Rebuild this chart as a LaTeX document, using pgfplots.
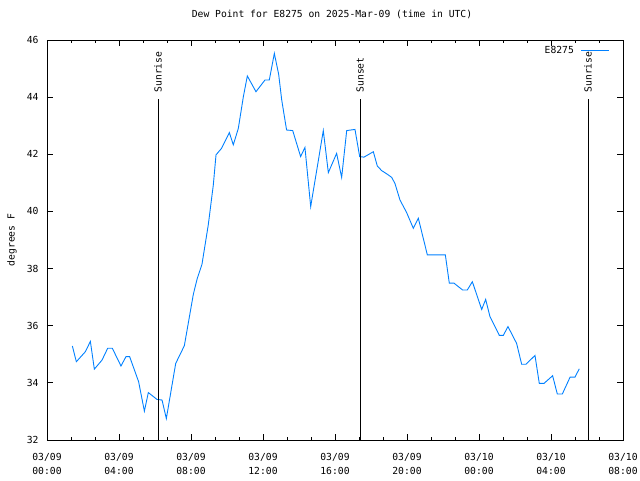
\documentclass[border=0pt]{standalone}
\usepackage{fontspec}
\setmainfont{DejaVu Sans Mono}
\usepackage{pgfplots}
\pgfplotsset{compat=1.18}
\definecolor{gpblue}{RGB}{0,128,255}
\pgfplotstableread{
h v
1.41 35.29
1.63 34.74
2.13 35.09
2.41 35.45
2.63 34.48
3.06 34.80
3.37 35.21
3.63 35.21
4.11 34.59
4.39 34.92
4.59 34.92
5.09 34.04
5.41 33.01
5.63 33.66
6.11 33.42
6.39 33.40
6.63 32.75
7.15 34.68
7.63 35.30
8.13 37.10
8.35 37.66
8.61 38.15
8.96 39.53
9.24 40.93
9.39 41.98
9.70 42.21
10.13 42.76
10.35 42.33
10.63 42.91
10.91 44.02
11.13 44.74
11.61 44.19
12.11 44.60
12.35 44.60
12.63 45.53
12.87 44.80
13.04 43.90
13.31 42.85
13.65 42.83
14.09 41.92
14.33 42.24
14.65 40.17
15.35 42.83
15.63 41.36
16.09 42.03
16.37 41.19
16.65 42.83
17.11 42.87
17.37 41.92
17.61 41.90
18.13 42.09
18.35 41.59
18.59 41.43
18.91 41.30
19.15 41.19
19.33 40.98
19.61 40.40
19.98 39.96
20.35 39.41
20.63 39.76
21.13 38.48
22.13 38.48
22.35 37.49
22.61 37.49
23.09 37.25
23.35 37.25
23.63 37.54
24.15 36.57
24.37 36.92
24.61 36.32
25.13 35.66
25.35 35.66
25.61 35.97
26.09 35.38
26.37 34.65
26.61 34.65
27.11 34.96
27.35 33.98
27.61 33.98
28.09 34.25
28.35 33.61
28.63 33.61
29.06 34.20
29.33 34.20
29.57 34.49
}\dewdata
\begin{document}
\fontsize{9.7}{14}\selectfont
\begin{tikzpicture}
\begin{axis}[
  at={(0pt,0pt)}, anchor=south west,
  width=576pt, height=400pt, scale only axis,
  xmin=0, xmax=32, ymin=32, ymax=46,
  xtick={0,4,...,32},
  xticklabels={{03/09\\00:00},{03/09\\04:00},{03/09\\08:00},{03/09\\12:00},{03/09\\16:00},{03/09\\20:00},{03/10\\00:00},{03/10\\04:00},{03/10\\08:00}},
  minor x tick num=2,
  ytick={32,34,...,46},
  tick align=inside,
  major tick length=6pt, minor tick length=3pt,
  every tick/.style={black, line width=0.8pt},
  axis line style={line width=0.8pt},
  /pgf/number format/assume math mode=true,
  xticklabel style={align=center, font=\fontsize{9.7}{14}\selectfont, yshift=-10pt},
  yticklabel style={font=\fontsize{9.7}{14}\selectfont, xshift=-5pt},
  title={Dew Point for E8275 on 2025-Mar-09 (time in UTC)},
  title style={at={(axis description cs:0.5,1)}, anchor=center, yshift=20pt, xshift=-3pt},
  ylabel={degrees F},
  ylabel style={at={(axis description cs:-0.0608,0.5)}, anchor=center},
  legend style={at={(rel axis cs:1,1)}, anchor=north east, draw=none, fill=none, xshift=-10pt, yshift=-2pt, column sep=5pt, font=\fontsize{9.7}{14}\selectfont},
  legend plot pos=right,
  legend image code/.code={\draw[#1] (0pt,0pt) -- (28pt,0pt);},
  clip=false,
]
\addplot[gpblue, line width=0.9pt, forget plot=false] table[x=h, y=v] {\dewdata};
\addlegendentry{E8275}
\addplot[black, line width=0.9pt, forget plot] coordinates {(6.17,32) (6.17,43.95)};
\addplot[black, line width=0.9pt, forget plot] coordinates {(17.39,32) (17.39,43.95)};
\addplot[black, line width=0.9pt, forget plot] coordinates {(30.06,32) (30.06,43.95)};
\node[rotate=90, anchor=west, inner sep=0pt] at (axis cs:6.17,44.16) {Sunrise};
\node[rotate=90, anchor=west, inner sep=0pt] at (axis cs:17.39,44.16) {Sunset};
\node[rotate=90, anchor=west, inner sep=0pt] at (axis cs:30.06,44.16) {Sunrise};
\end{axis}
\pgfresetboundingbox
\path[use as bounding box] (-47pt,-40pt) rectangle (593pt,440pt);
\end{tikzpicture}
\end{document}
